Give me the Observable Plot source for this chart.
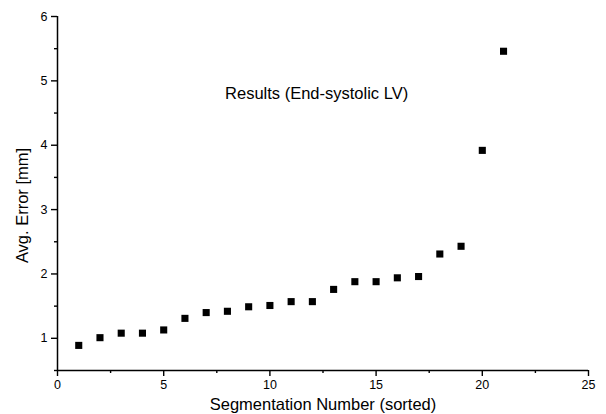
<!DOCTYPE html>
<html>
<head>
<meta charset="utf-8">
<script src="https://cdn.jsdelivr.net/npm/d3@7"></script>
<script src="https://cdn.jsdelivr.net/npm/@observablehq/plot@0.6"></script>
<style>
  html, body { margin: 0; padding: 0; background: #fff; }
  #chart svg { display: block; }
</style>
</head>
<body>
<div id="chart"></div>
<script>
const segNumbers = [1, 2, 3, 4, 5, 6, 7, 8, 9, 10, 11, 12, 13, 14, 15, 16, 17, 18, 19, 20, 21];
const avgErrors = [0.89, 1.01, 1.08, 1.08, 1.13, 1.31, 1.40, 1.42, 1.49, 1.51, 1.57, 1.57, 1.76, 1.88, 1.88, 1.94, 1.96, 2.31, 2.43, 3.92, 5.46];

const xMajorTicks = [0, 5, 10, 15, 20, 25];
const xMinorTicks = [2.5, 7.5, 12.5, 17.5, 22.5];
const yMajorTicks = [1, 2, 3, 4, 5, 6];
const yMinorTicks = [0.5, 1.5, 2.5, 3.5, 4.5, 5.5];

const xLabel = "Segmentation Number (sorted)";
const yLabel = "Avg. Error [mm]";
const titleText = "Results (End-systolic LV)";
const titlePos = {x: 12.2, y: 4.8};

const data = segNumbers.map((s, i) => ({seg: s, err: avgErrors[i]}));
const font = "'Liberation Sans', Arial, Helvetica, sans-serif";
const intFmt = d3.format("d");

const chart = Plot.plot({
  width: 606,
  height: 414,
  marginLeft: 57,
  marginRight: 18,
  marginTop: 16,
  marginBottom: 44,
  style: {fontFamily: font, color: "#000", background: "#fff"},
  x: {domain: [0, 25], axis: null},
  y: {domain: [0.5, 6], axis: null},
  marks: [
    Plot.axisX({ticks: xMajorTicks, tickFormat: intFmt, tickSize: 6, tickPadding: 4, fontSize: 12.5, label: null, stroke: "#000", strokeWidth: 1.4, strokeOpacity: 1}),
    Plot.axisX({ticks: xMinorTicks, tickSize: 3, text: null, label: null, stroke: "#000", strokeWidth: 1.4, strokeOpacity: 1}),
    Plot.axisY({ticks: yMajorTicks, tickFormat: intFmt, tickSize: 6, tickPadding: 4, fontSize: 12.5, label: null, stroke: "#000", strokeWidth: 1.4, strokeOpacity: 1}),
    Plot.axisY({ticks: yMinorTicks, tickSize: 3, text: null, label: null, stroke: "#000", strokeWidth: 1.4, strokeOpacity: 1}),
    Plot.ruleY([0.5], {stroke: "#000", strokeWidth: 1.5}),
    Plot.ruleX([0], {stroke: "#000", strokeWidth: 1.5}),
    Plot.dot(data, {x: "seg", y: "err", symbol: "square", r: 4, fill: "#000", stroke: null}),
    Plot.text([titleText], {x: titlePos.x, y: titlePos.y, text: d => d, fontSize: 16.5, fill: "#000", textAnchor: "middle", lineAnchor: "middle"}),
    Plot.text([xLabel], {frameAnchor: "bottom", text: d => d, fontSize: 16.5, fill: "#000", textAnchor: "middle", lineAnchor: "middle", dy: 34}),
    Plot.text([yLabel], {frameAnchor: "left", text: d => d, fontSize: 16.5, fill: "#000", rotate: -90, textAnchor: "middle", lineAnchor: "middle", dx: -35, dy: 12})
  ]
});
document.getElementById("chart").appendChild(chart);
</script>
</body>
</html>
